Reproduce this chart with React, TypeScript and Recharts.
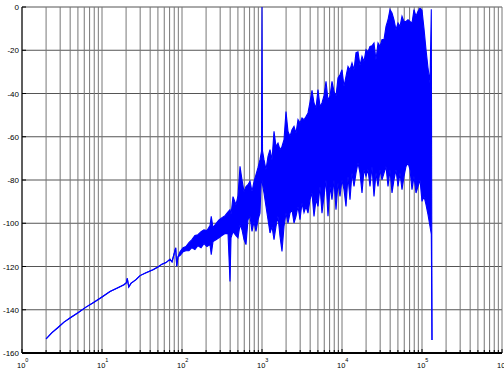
import React from 'react';
import { ComposedChart, Area, XAxis, YAxis, CartesianGrid } from 'recharts';

// Low-frequency part of the spectrum: a clean single trace (Hz, dB)
const traceFreq = [
  2.0, 2.37, 2.82, 3.35, 3.98, 5.01, 6.31, 7.94, 10, 12.6,
  15.8, 18.8, 20.2, 20.7, 21.6, 23.0, 26.6, 29.9, 35.5, 43.4,
  50.1, 56.2, 63.1, 70.8, 75.0, 83.4, 85.9, 89.1,
];
const traceDb = [
  -153.5, -150.6, -148.2, -145.7, -143.8, -141.4, -138.8, -136.5, -134.1, -131.6,
  -129.8, -128.4, -127.5, -125.5, -129.5, -127.8, -126.1, -124.2, -122.9, -121.5,
  -120.2, -118.9, -118.2, -116.7, -117.8, -111.4, -119.9, -115.5,
];

// Noisy part of the spectrum: upper and lower excursion at each frequency (Hz, dB)
const bandFreq = [
  94.4, 103, 112, 122, 133, 145, 158, 173, 188, 205,
  224, 232, 244, 266, 290, 316, 345, 376, 398, 410,
  434, 473, 501, 531, 562, 596, 631, 668, 708, 750,
  794, 841, 891, 944, 985, 1000, 1015, 1059, 1122, 1189,
  1259, 1334, 1413, 1496, 1585, 1679, 1778, 1884, 1995, 2113,
  2239, 2371, 2512, 2661, 2818, 2985, 3162, 3350, 3548, 3758,
  3981, 4217, 4467, 4732, 5012, 5309, 5623, 5957, 6310, 6683,
  7079, 7499, 7943, 8414, 8913, 9441, 10000, 10593, 11220, 11885,
  12589, 13335, 14125, 14962, 15849, 16788, 17783, 18836, 19953, 21135,
  22387, 23714, 25119, 26607, 28184, 29854, 31623, 33497, 35481, 37584,
  39811, 42170, 44668, 47315, 50119, 53088, 56234, 59566, 63096, 66834,
  70795, 74989, 79433, 84140, 89125, 94406, 100000, 105925, 112202, 118850,
  125893, 130700, 133352,
];
const bandUpperDb = [
  -113.2, -111.3, -110.8, -109.0, -107.6, -105.7, -105.3, -103.9, -103.0, -103.4,
  -101.1, -96.8, -102.0, -100.2, -98.4, -97.4, -96.5, -94.7, -93.7, -96.0,
  -87.7, -91.4, -87.3, -73.7, -79.9, -85.4, -83.0, -82.2, -80.6, -85.3,
  -80.8, -77.5, -74.3, -70.6, -66.8, 0, -66.5, -70.6, -75.2, -69.1,
  -66.0, -70.6, -57.5, -64.5, -62.9, -66.0, -64.5, -61.4, -48.3, -57.5,
  -59.8, -56.7, -55.2, -58.3, -52.1, -53.6, -51.3, -52.1, -50.6, -49.0,
  -44.0, -38.5, -44.4, -46.7, -38.2, -46.0, -44.4, -41.0, -34.4, -42.9,
  -41.3, -34.4, -39.0, -41.3, -32.8, -31.3, -29.0, -36.7, -32.1, -27.5,
  -29.0, -25.9, -29.0, -21.1, -20.7, -27.1, -22.8, -25.2, -19.7, -20.7,
  -18.2, -17.9, -16.6, -24.4, -16.6, -18.2, -15.1, -15.1, -9.0, -5.9,
  -1.2, -2.8, -5.9, -10.5, -7.4, -9.0, -4.3, -6.7, -6.7, -5.9,
  -6.7, -7.4, -1.2, -4.3, -2.0, -0.5, -1.5, -10.0, -19.7, -28.1,
  -35.0, -1.0, -154.0,
];
const bandLowerDb = [
  -115.0, -113.2, -112.7, -112.7, -111.3, -112.2, -110.4, -111.3, -109.4, -110.8,
  -109.9, -114.5, -108.5, -107.6, -106.7, -105.7, -104.8, -104.8, -126.9, -106.7,
  -103.9, -105.7, -106.7, -100.7, -103.0, -107.6, -109.9, -98.4, -96.8, -103.8,
  -99.3, -103.8, -98.4, -95.3, -77.5, -80.0, -82.0, -86.0, -92.2, -98.4,
  -104.5, -101.5, -107.6, -101.5, -96.8, -106.1, -113.0, -101.5, -95.3, -99.9,
  -95.3, -93.7, -99.9, -96.8, -92.2, -98.4, -90.6, -95.1, -92.2, -95.3,
  -89.1, -86.0, -96.8, -89.1, -92.2, -83.0, -95.3, -87.6, -79.9, -96.8,
  -83.0, -89.1, -79.9, -93.7, -81.4, -87.6, -79.9, -84.5, -92.2, -78.3,
  -89.1, -76.8, -83.0, -76.8, -72.1, -76.8, -86.0, -75.2, -78.3, -75.2,
  -83.0, -73.7, -87.6, -76.8, -83.0, -75.2, -79.9, -76.8, -73.7, -83.0,
  -75.2, -86.0, -79.9, -75.2, -83.0, -76.8, -84.5, -78.3, -73.7, -72.1,
  -75.2, -84.5, -78.3, -86.0, -83.0, -79.9, -89.9, -87.6, -91.4, -96.0,
  -101.5, -105.0, -154.0,
];

// Axis ticks
const decadeExponents = [0, 1, 2, 3, 4, 5, 6];
const decadeSteps = [1, 2, 3, 4, 5, 6, 7, 8, 9];
const dbTicks = [-160, -140, -120, -100, -80, -60, -40, -20, 0];

const freqTicks: number[] = [];
decadeExponents.forEach((e) => {
  if (e === decadeExponents[decadeExponents.length - 1]) {
    freqTicks.push(10 ** e);
  } else {
    decadeSteps.forEach((k) => freqTicks.push(k * 10 ** e));
  }
});

const data = [
  ...traceFreq.map((f, i) => ({ f, band: [traceDb[i], traceDb[i]] })),
  ...bandFreq.map((f, i) => ({ f, band: [bandLowerDb[i], bandUpperDb[i]] })),
];

const FONT = '"Liberation Sans", Arial, Helvetica, sans-serif';

const isDecade = (v: number) => {
  const e = Math.log10(v);
  return Math.abs(e - Math.round(e)) < 1e-6;
};

const BottomTick = (props: any) => {
  const { x, y, payload } = props;
  const v = payload.value as number;
  const major = isDecade(v);
  return (
    <g>
      <line x1={x} x2={x} y1={y} y2={y - (major ? 4 : 3)} stroke="#000" strokeWidth={1} />
      {major && (
        <text x={x - 5} y={y + 15} fontSize={7.5} fontFamily={FONT} fill="#000" textAnchor="start">
          10
          <tspan dy={-6} fontSize={5.5}>
            {Math.round(Math.log10(v))}
          </tspan>
        </text>
      )}
    </g>
  );
};

const TopTick = (props: any) => {
  const { x, y, payload } = props;
  const major = isDecade(payload.value as number);
  return <line x1={x} x2={x} y1={y} y2={y + (major ? 4 : 3)} stroke="#000" strokeWidth={1} />;
};

const LeftTick = (props: any) => {
  const { x, y, payload } = props;
  return (
    <g>
      <line x1={x} x2={x + 4} y1={y} y2={y} stroke="#000" strokeWidth={1} />
      <text x={x - 3} y={y + 3} fontSize={8} fontFamily={FONT} fill="#000" textAnchor="end">
        {payload.value}
      </text>
    </g>
  );
};

const RightTick = (props: any) => {
  const { x, y } = props;
  return <line x1={x} x2={x - 4} y1={y} y2={y} stroke="#000" strokeWidth={1} />;
};

export default function App() {
  return (
    <div style={{ position: 'absolute', left: 0, top: 0, background: '#fff' }}>
      <ComposedChart
        width={504}
        height={369}
        data={data}
        margin={{ top: 7, right: 2, bottom: 0, left: 0 }}
      >
        <CartesianGrid xAxisId="b" yAxisId="l" vertical={false} stroke="#555" strokeWidth={1} />
        <CartesianGrid xAxisId="b" yAxisId="l" horizontal={false} stroke="#777" strokeWidth={1} />
        <Area
          xAxisId="b"
          yAxisId="l"
          type="linear"
          dataKey="band"
          stroke="#0000ff"
          strokeWidth={1.1}
          fill="#0000ff"
          fillOpacity={1}
          dot={false}
          activeDot={false}
          isAnimationActive={false}
        />
        <XAxis
          xAxisId="b"
          dataKey="f"
          type="number"
          scale="log"
          domain={[1, 1e6]}
          allowDataOverflow
          ticks={freqTicks}
          interval={0}
          height={16}
          tickSize={0}
          tickMargin={0}
          tickLine={false}
          tick={<BottomTick />}
          axisLine={{ stroke: '#000', strokeWidth: 2 }}
        />
        <XAxis
          xAxisId="t"
          orientation="top"
          dataKey="f"
          type="number"
          scale="log"
          domain={[1, 1e6]}
          allowDataOverflow
          ticks={freqTicks}
          interval={0}
          height={0}
          tickSize={0}
          tickMargin={0}
          tickLine={false}
          tick={<TopTick />}
          axisLine={{ stroke: '#000', strokeWidth: 2 }}
        />
        <YAxis
          yAxisId="l"
          type="number"
          domain={[-160, 0]}
          allowDataOverflow
          ticks={dbTicks}
          interval={0}
          width={22}
          tickSize={0}
          tickMargin={0}
          tickLine={false}
          tick={<LeftTick />}
          axisLine={{ stroke: '#000', strokeWidth: 1 }}
        />
        <YAxis
          yAxisId="r"
          orientation="right"
          type="number"
          domain={[-160, 0]}
          allowDataOverflow
          ticks={dbTicks}
          interval={0}
          width={0}
          tickSize={0}
          tickMargin={0}
          tickLine={false}
          tick={<RightTick />}
          axisLine={{ stroke: '#000', strokeWidth: 1.5 }}
        />
      </ComposedChart>
    </div>
  );
}
